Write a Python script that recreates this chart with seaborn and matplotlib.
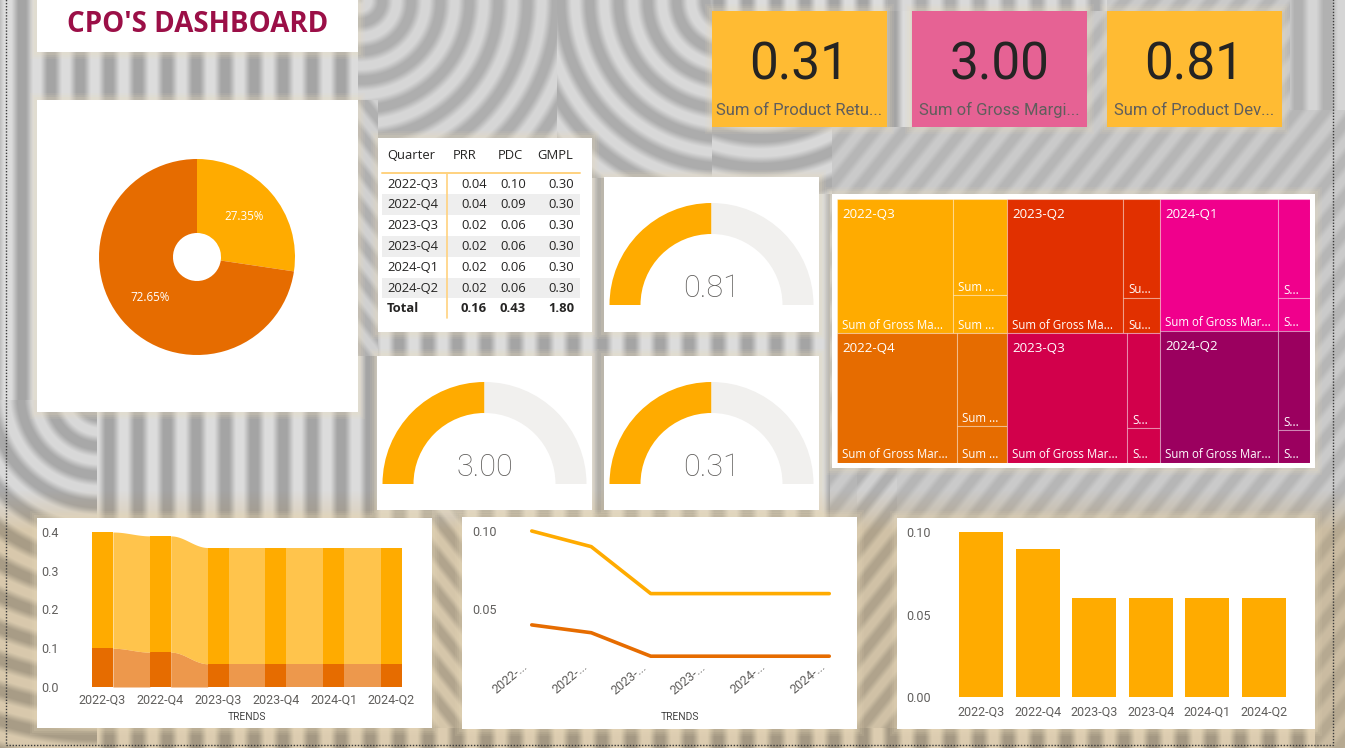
import numpy as np
import pandas as pd
import matplotlib
matplotlib.use("Agg")
import matplotlib.pyplot as plt
from matplotlib.patches import Rectangle, Wedge
from matplotlib.transforms import ScaledTranslation
import seaborn as sns

W, H = 1345, 748

quarters = ["2022-Q3", "2022-Q4", "2023-Q3", "2023-Q4", "2024-Q1", "2024-Q2"]
prr = [0.04, 0.035, 0.02, 0.02, 0.02, 0.02]
pdc = [0.10, 0.09, 0.06, 0.06, 0.06, 0.06]
gmpl = [0.30, 0.30, 0.30, 0.30, 0.30, 0.30]

table_prr = ["0.04", "0.04", "0.02", "0.02", "0.02", "0.02"]
table_pdc = ["0.10", "0.09", "0.06", "0.06", "0.06", "0.06"]
table_gmpl = ["0.30", "0.30", "0.30", "0.30", "0.30", "0.30"]
table_total = ["Total", "0.16", "0.43", "1.80"]

pie_values = [27.35, 72.65]

card_values = ["0.31", "3.00", "0.81"]
card_labels = ["Sum of Product Retu...", "Sum of Gross Margi...", "Sum of Product Dev..."]

gauge_values = [0.81, 3.00, 0.31]
gauge_max = [1.62, 6.00, 0.62]

# treemap groups, one list per column of the treemap
tree_names = [["2022-Q3", "2022-Q4"], ["2023-Q2", "2023-Q3"], ["2024-Q1", "2024-Q2"]]
tree_gross = [[0.30, 0.30], [0.30, 0.30], [0.30, 0.30]]
tree_dev = [[0.10, 0.089], [0.07, 0.06], [0.06, 0.06]]
tree_ret = [[0.04, 0.035], [0.025, 0.022], [0.02, 0.02]]
tree_colors = [["#FFAB00", "#E66C00"], ["#E13000", "#D2004B"], ["#F0008C", "#9B005F"]]

ORANGE = "#FFAB00"
DARK = "#E66C00"
GREY = "#605E5C"

sns.set_theme(style="white")
plt.rcParams["font.family"] = ["Roboto", "DejaVu Sans"]
plt.rcParams["axes.unicode_minus"] = False


def make_background():
    yy, xx = np.mgrid[0:H, 0:W].astype(float)
    img = np.full((H, W), 190.0)
    # wall texture, later patches paint over earlier ones
    patches = [
        ((0, 0, W, H), "v", None, 192, 28),
        ((830, 127, W, 520), "diag", 0.8, 192, 10),
        ((1085, 0, W, 200), "diag", 0.8, 192, 10),
        ((1290, 0, W, 110), "v", None, 195, 18),
        ((358, 0, 557, 178), "arc", (360, 0), 194, 20),
        ((557, 0, 712, 178), "arc", (727, 0), 194, 22),
        ((712, 127, 832, 194), "arc", (760, 0), 194, 22),
        ((887, 0, 1107, 11), "v", None, 195, 22),
        ((0, 400, 97, 748), "arc", (100, 395), 192, 24),
        ((358, 100, 378, 356), "diag", -0.8, 192, 16),
        ((432, 510, 462, 728), "diag", -0.8, 195, 18),
        ((857, 468, 897, 728), "diag", 0.8, 192, 16),
        ((1315, 194, W, 748), "diag", 0.8, 192, 10),
    ]
    for (x0, y0, x1, y1), kind, arg, mid, amp in patches:
        if kind == "v":
            dist = xx
        elif kind == "diag":
            dist = (xx + arg * yy)
        else:
            dist = np.hypot(xx - arg[0], yy - arg[1])
        wave = np.clip(1.4 * np.sin(2 * np.pi * dist / 29.0), -1, 1)
        mask = (xx >= x0) & (xx < x1) & (yy >= y0) & (yy < y1)
        img[mask] = (mid + amp * wave)[mask]
    rgb = np.dstack([img, img, img]) / 255.0
    # warm tint along the lower part of the page
    tint = np.clip((yy - 490) / 40, 0, 1)
    rgb[..., 2] *= 1 - 0.2 * tint
    rgb[..., 1] *= 1 - 0.07 * tint
    return rgb


def ax_px(x0, y0, x1, y1):
    ax = fig.add_axes([x0 / W, 1 - y1 / H, (x1 - x0) / W, (y1 - y0) / H])
    ax.patch.set_alpha(0)
    return ax


def panel(x0, y0, x1, y1, color="white"):
    for pad, alpha in [(7, 0.10), (5, 0.12), (3, 0.16)]:
        bg.add_patch(Rectangle((x0 - pad, y0 - pad), x1 - x0 + 2 * pad, y1 - y0 + 2 * pad,
                               color="#EBDDBD", alpha=alpha, lw=0))
    bg.add_patch(Rectangle((x0, y0), x1 - x0, y1 - y0, color=color, lw=0))


def clean_axis(ax, xlabel=None):
    sns.despine(ax=ax, left=True, bottom=True)
    ax.tick_params(axis="both", length=0, labelsize=9, labelcolor=GREY, pad=4)
    ax.set_xlabel(xlabel if xlabel else "", fontsize=7.4, color="#444444")
    ax.set_ylabel("")
    ax.grid(False)


def short_label(width):
    if width >= 117:
        return "Sum of Gross Mar..."
    if width >= 100:
        return "Sum of Gross Ma..."
    if width >= 48:
        return "Sum ..."
    if width >= 35:
        return "Su..."
    return "S..."


fig = plt.figure(figsize=(W / 100, H / 100), dpi=100)
bg = fig.add_axes([0, 0, 1, 1])
bg.imshow(make_background(), extent=(0, W, H, 0), aspect="auto", zorder=0)
bg.set_xlim(0, W)
bg.set_ylim(H, 0)
bg.axis("off")
bg.add_patch(Rectangle((6, -5), 1327, 750, fill=False, ec="#3A3A3A", lw=1.0, ls=(0, (1, 1.2))))

# title
panel(37, 0, 358, 52)
bg.text(197.5, 24, "CPO'S DASHBOARD", ha="center", va="center", fontsize=20, fontweight="bold",
        color="#9B0F47", family="Open Sans")

# KPI cards
card_boxes = [(712, 887), (912, 1087), (1107, 1282)]
card_fill = ["#FFBB33", "#E66294", "#FFBB33"]
for box, fill, val, lab in zip(card_boxes, card_fill, card_values, card_labels):
    panel(box[0], 11, box[1], 127, fill)
    bg.text(sum(box) / 2, 65, val, ha="center", va="center", fontsize=37, color="#252423")
    bg.text(sum(box) / 2, 110, lab, ha="center", va="center", fontsize=12, color=GREY)

# donut
panel(37, 100, 358, 412)
pie_ax = ax_px(99, 159, 295, 355)
pie_ax.pie(pie_values, colors=[ORANGE, DARK], startangle=90, counterclock=False, radius=1,
           autopct="%.2f%%", pctdistance=0.63, wedgeprops={"width": 0.755, "lw": 0},
           textprops={"color": "white", "fontsize": 8.4, "family": "Open Sans"})
pie_ax.set_xlim(-1, 1)
pie_ax.set_ylim(-1, 1)

# table
panel(378, 138, 592, 332)
table_font = {"family": "Open Sans", "fontsize": 9.4, "va": "center", "color": "#252423"}
for name, x in zip(["Quarter", "PRR", "PDC", "GMPL"], [387, 453, 498, 537]):
    bg.text(x, 155, name, ha="left", **table_font)
bg.plot([382, 580], [173, 173], color="#FFD27F", lw=1.4)
row_h = 20.8
for i, q in enumerate(quarters):
    y = 184 + i * row_h
    if i % 2 == 1:
        bg.add_patch(Rectangle((382, y - row_h / 2), 198, row_h, color="#EEEEEE", lw=0))
    bg.text(387, y, q, ha="left", **table_font)
    bg.text(487, y, table_prr[i], ha="right", **table_font)
    bg.text(526, y, table_pdc[i], ha="right", **table_font)
    bg.text(574, y, table_gmpl[i], ha="right", **table_font)
y = 184 + 6 * row_h
bg.text(387, y, table_total[0], ha="left", fontweight="bold", **table_font)
for x, val in zip([487, 526, 574], table_total[1:]):
    bg.text(x, y, val, ha="right", fontweight="bold", **table_font)
bg.plot([446.5, 446.5], [173, 318], color="#FFD27F", lw=1.2)

# gauges
gauge_boxes = [(604, 177, 819, 332), (377, 356, 592, 510), (604, 356, 819, 510)]
for box, val, vmax in zip(gauge_boxes, gauge_values, gauge_max):
    panel(*box)
    cx = (box[0] + box[2]) / 2
    cy = box[1] + 128
    split = 180 + 180 * val / vmax
    # y axis of bg is flipped, so angles run clockwise on screen
    bg.add_patch(Wedge((cx, cy), 102, 180, split, width=31, color=ORANGE, lw=0))
    bg.add_patch(Wedge((cx, cy), 102, split, 360, width=31, color="#F1F0EE", lw=0))
    bg.text(cx, cy - 17, "%.2f" % val, ha="center", va="center", fontsize=22, color=GREY,
            fontweight="light")

# treemap
panel(832, 194, 1315, 468)
tree = ax_px(837, 199, 1310, 463)
tree.set_xlim(0, 473)
tree.set_ylim(264, 0)
tree.axis("off")
totals = [[g + d + r for g, d, r in zip(a, b, c)] for a, b, c in zip(tree_gross, tree_dev, tree_ret)]
grand = sum(sum(t) for t in totals)
x0 = 0.0
for col, col_tot in enumerate(totals):
    col_w = 473 * sum(col_tot) / grand
    y0 = 0.0
    for row, tot in enumerate(col_tot):
        h = 264 * tot / sum(col_tot)
        c = tree_colors[col][row]
        big_w = col_w * tree_gross[col][row] / tot
        side = tree_dev[col][row] + tree_ret[col][row]
        top_h = h * tree_dev[col][row] / side
        cells = [(x0, y0, big_w, h), (x0 + big_w, y0, col_w - big_w, top_h),
                 (x0 + big_w, y0 + top_h, col_w - big_w, h - top_h)]
        for cx, cy, cw, ch in cells:
            tree.add_patch(Rectangle((cx, cy), cw, ch, fc=c, ec="#FFFFFF50", lw=0.8))
            tree.text(cx + 5, cy + ch - 8, short_label(cw), color="white", fontsize=8.3, va="center",
                      family="Open Sans")
        tree.text(x0 + 5, y0 + 15, tree_names[col][row], color="white", fontsize=9.6, va="center",
                  family="Open Sans")
        y0 += h
    x0 += col_w

# ribbon chart
panel(37, 518, 432, 728)
ribbon = ax_px(73.6, 532, 420.4, 687)
frame = pd.DataFrame({"quarter": quarters, "pdc": pdc, "gmpl": gmpl})
bar_w = 0.36
sns.barplot(data=frame, x="quarter", y="pdc", color=DARK, width=bar_w, saturation=1, linewidth=0, ax=ribbon)
sns.barplot(data=frame, x="quarter", y="gmpl", bottom=frame["pdc"], color=ORANGE, width=bar_w,
            saturation=1, linewidth=0, ax=ribbon)
for i in range(len(quarters) - 1):
    xs = np.linspace(i + bar_w / 2, i + 1 - bar_w / 2, 60)
    t = (xs - xs[0]) / (xs[-1] - xs[0])
    ease = 0.5 - 0.5 * np.cos(np.pi * t)
    low = pdc[i] + (pdc[i + 1] - pdc[i]) * ease
    top = low + gmpl[i]
    ribbon.fill_between(xs, 0, low, color=DARK, alpha=0.7, lw=0)
    ribbon.fill_between(xs, low, top, color=ORANGE, alpha=0.7, lw=0)
ribbon.set_xlim(-0.5, 5.5)
ribbon.set_ylim(0, 0.4)
ribbon.set_yticks([0, 0.1, 0.2, 0.3, 0.4])
clean_axis(ribbon, "TRENDS")
ribbon.tick_params(axis="y", pad=11)
ribbon.tick_params(axis="x", pad=5)

# line chart
panel(462, 517, 857, 729)
lines = ax_px(502, 522, 859, 672)
frame = pd.DataFrame({"quarter": quarters, "pdc": pdc, "prr": prr})
sns.lineplot(data=frame, x="quarter", y="pdc", color=ORANGE, lw=2.6, sort=False, ax=lines)
sns.lineplot(data=frame, x="quarter", y="prr", color=DARK, lw=2.6, sort=False, ax=lines)
lines.set_xlim(-0.5, 5.5)
lines.set_ylim(0.1 - 141 / 1565, 0.1 + 9 / 1565)
lines.set_yticks([0.05, 0.10])
lines.set_yticklabels(["0.05", "0.10"])
lines.set_xticks(range(len(quarters)))
lines.set_xticklabels([q[:5] + "..." for q in quarters], rotation=40, ha="right",
                      rotation_mode="anchor")
clean_axis(lines)
lines.tick_params(axis="x", pad=-2)
shift = ScaledTranslation(-10 / 100, 9 / 100, fig.dpi_scale_trans)
for label in lines.get_xticklabels():
    label.set_transform(label.get_transform() + shift)
bg.text(680, 717, "TRENDS", ha="center", va="center", fontsize=7.4, color="#444444")

# bar chart
panel(897, 518, 1315, 729)
bars = ax_px(952.7, 532, 1292.3, 697)
frame = pd.DataFrame({"quarter": quarters, "pdc": pdc})
sns.barplot(data=frame, x="quarter", y="pdc", color=ORANGE, width=0.78, saturation=1, linewidth=0, ax=bars)
bars.set_xlim(-0.5, 5.5)
bars.set_ylim(0, 0.1)
bars.set_yticks([0, 0.05, 0.10])
bars.set_yticklabels(["0.00", "0.05", "0.10"])
clean_axis(bars)
bars.tick_params(axis="y", pad=16)
bars.tick_params(axis="x", pad=6)

fig.savefig("out.png", dpi=100)
